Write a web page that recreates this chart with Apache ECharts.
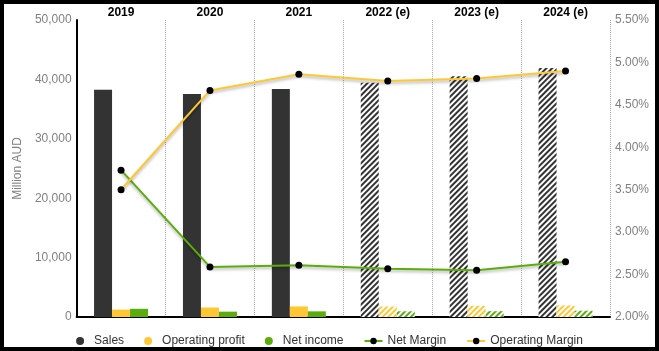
<!DOCTYPE html>
<html>
<head>
<meta charset="utf-8">
<script src="https://cdn.jsdelivr.net/npm/echarts@6/dist/echarts.min.js"></script>
<style>
	html, body { margin: 0; padding: 0; background: #fff; }
	#wrap { width: 659px; height: 351px; box-sizing: border-box; border: 4px solid #000; }
	#main { width: 651px; height: 343px; }
</style>
</head>
<body>
<div id="wrap"><div id="main"></div></div>
<script>
var years = ['2019', '2020', '2021', '2022 (e)', '2023 (e)', '2024 (e)'];
var sales = [38250, 37550, 38400, 39450, 40550, 41900];
var opProfit = [1250, 1600, 1780, 1760, 1880, 1950];
var netIncome = [1380, 900, 950, 960, 980, 1060];
var netMargin = [3.73, 2.59, 2.61, 2.57, 2.55, 2.65];
var opMargin = [3.50, 4.67, 4.86, 4.78, 4.81, 4.90];
var firstEstimate = 3; // 2022 (e) onwards is hatched

var font = 'Liberation Sans, Arial, sans-serif';
var cSales = '#333333', cOp = '#ffc734', cNet = '#5aad0c';

function hatched(arr, color) { //forecast bars get stripes
	return arr.map(function(v, i) {
		if(i < firstEstimate) return v;
		return {
			value: v,
			itemStyle: {
				color: '#fff',
				decal: {
					symbol: 'rect',
					symbolSize: 1,
					color: color,
					dashArrayX: [1, 0],
					dashArrayY: [2, 2],
					rotation: -Math.PI / 4
				}
			}
		};
	});
}

var lineShadow = { shadowColor: 'rgba(0,0,0,0.3)', shadowBlur: 3, shadowOffsetY: 2 };

var chart = echarts.init(document.getElementById('main'));
var option = {
	animation: false,
	textStyle: { fontFamily: font },
	grid: { left: 71, right: 45, top: 16, bottom: 30 },
	legend: {
		bottom: 0,
		padding: 0,
		left: 'center',
		itemWidth: 18,
		itemHeight: 8,
		itemGap: 20,
		textStyle: { fontSize: 12, color: '#333', fontFamily: font },
		data: [
			{ name: 'Sales', icon: 'circle' },
			{ name: 'Operating profit', icon: 'circle' },
			{ name: 'Net income', icon: 'circle' },
			{ name: 'Net Margin' },
			{ name: 'Operating Margin' }
		]
	},
	xAxis: [{
		type: 'category',
		data: years,
		position: 'top',
		axisLine: { show: false },
		axisTick: { show: false },
		axisLabel: { margin: 1, color: '#000', fontWeight: 'bold', fontSize: 12, fontFamily: font },
		splitLine: { show: true, lineStyle: { color: '#aaa', type: 'dotted', width: 1 } }
	}, {
		type: 'category',
		data: years,
		position: 'bottom',
		axisLine: { show: true, lineStyle: { color: '#000', width: 2 } },
		axisTick: { show: false },
		axisLabel: { show: false }
	}],
	yAxis: [{
		type: 'value',
		min: 0,
		max: 50000,
		interval: 10000,
		name: 'Million AUD',
		nameLocation: 'middle',
		nameGap: 50,
		nameTextStyle: { color: '#808080', fontSize: 12, fontFamily: font },
		axisLine: { show: true, lineStyle: { color: '#000', width: 2 } },
		axisTick: { show: false },
		splitLine: { show: false },
		axisLabel: {
			color: '#808080', fontSize: 12, margin: 5,
			formatter: function(v) { return v.toLocaleString('en-US'); }
		}
	}, {
		type: 'value',
		min: 2,
		max: 5.5,
		interval: 0.5,
		position: 'right',
		axisLine: { show: false },
		axisTick: { show: false },
		splitLine: { show: false },
		axisLabel: {
			color: '#808080', fontSize: 12, margin: 5,
			formatter: function(v) { return v.toFixed(2) + '%'; }
		}
	}],
	series: [{
		name: 'Sales',
		type: 'bar',
		barWidth: 18,
		barGap: '0%',
		itemStyle: { color: cSales },
		data: hatched(sales, cSales)
	}, {
		name: 'Operating profit',
		type: 'bar',
		barWidth: 18,
		barGap: '0%',
		itemStyle: { color: cOp },
		data: hatched(opProfit, cOp)
	}, {
		name: 'Net income',
		type: 'bar',
		barWidth: 18,
		barGap: '0%',
		itemStyle: { color: cNet },
		data: hatched(netIncome, cNet)
	}, {
		name: 'Net Margin',
		type: 'line',
		yAxisIndex: 1,
		symbol: 'circle',
		symbolSize: 7,
		z: 5,
		itemStyle: { color: '#000' },
		lineStyle: Object.assign({ color: cNet, width: 2 }, lineShadow),
		data: netMargin
	}, {
		name: 'Operating Margin',
		type: 'line',
		yAxisIndex: 1,
		symbol: 'circle',
		symbolSize: 7,
		z: 5,
		itemStyle: { color: '#000' },
		lineStyle: Object.assign({ color: cOp, width: 2 }, lineShadow),
		data: opMargin
	}]
};
chart.setOption(option);
</script>
</body>
</html>
